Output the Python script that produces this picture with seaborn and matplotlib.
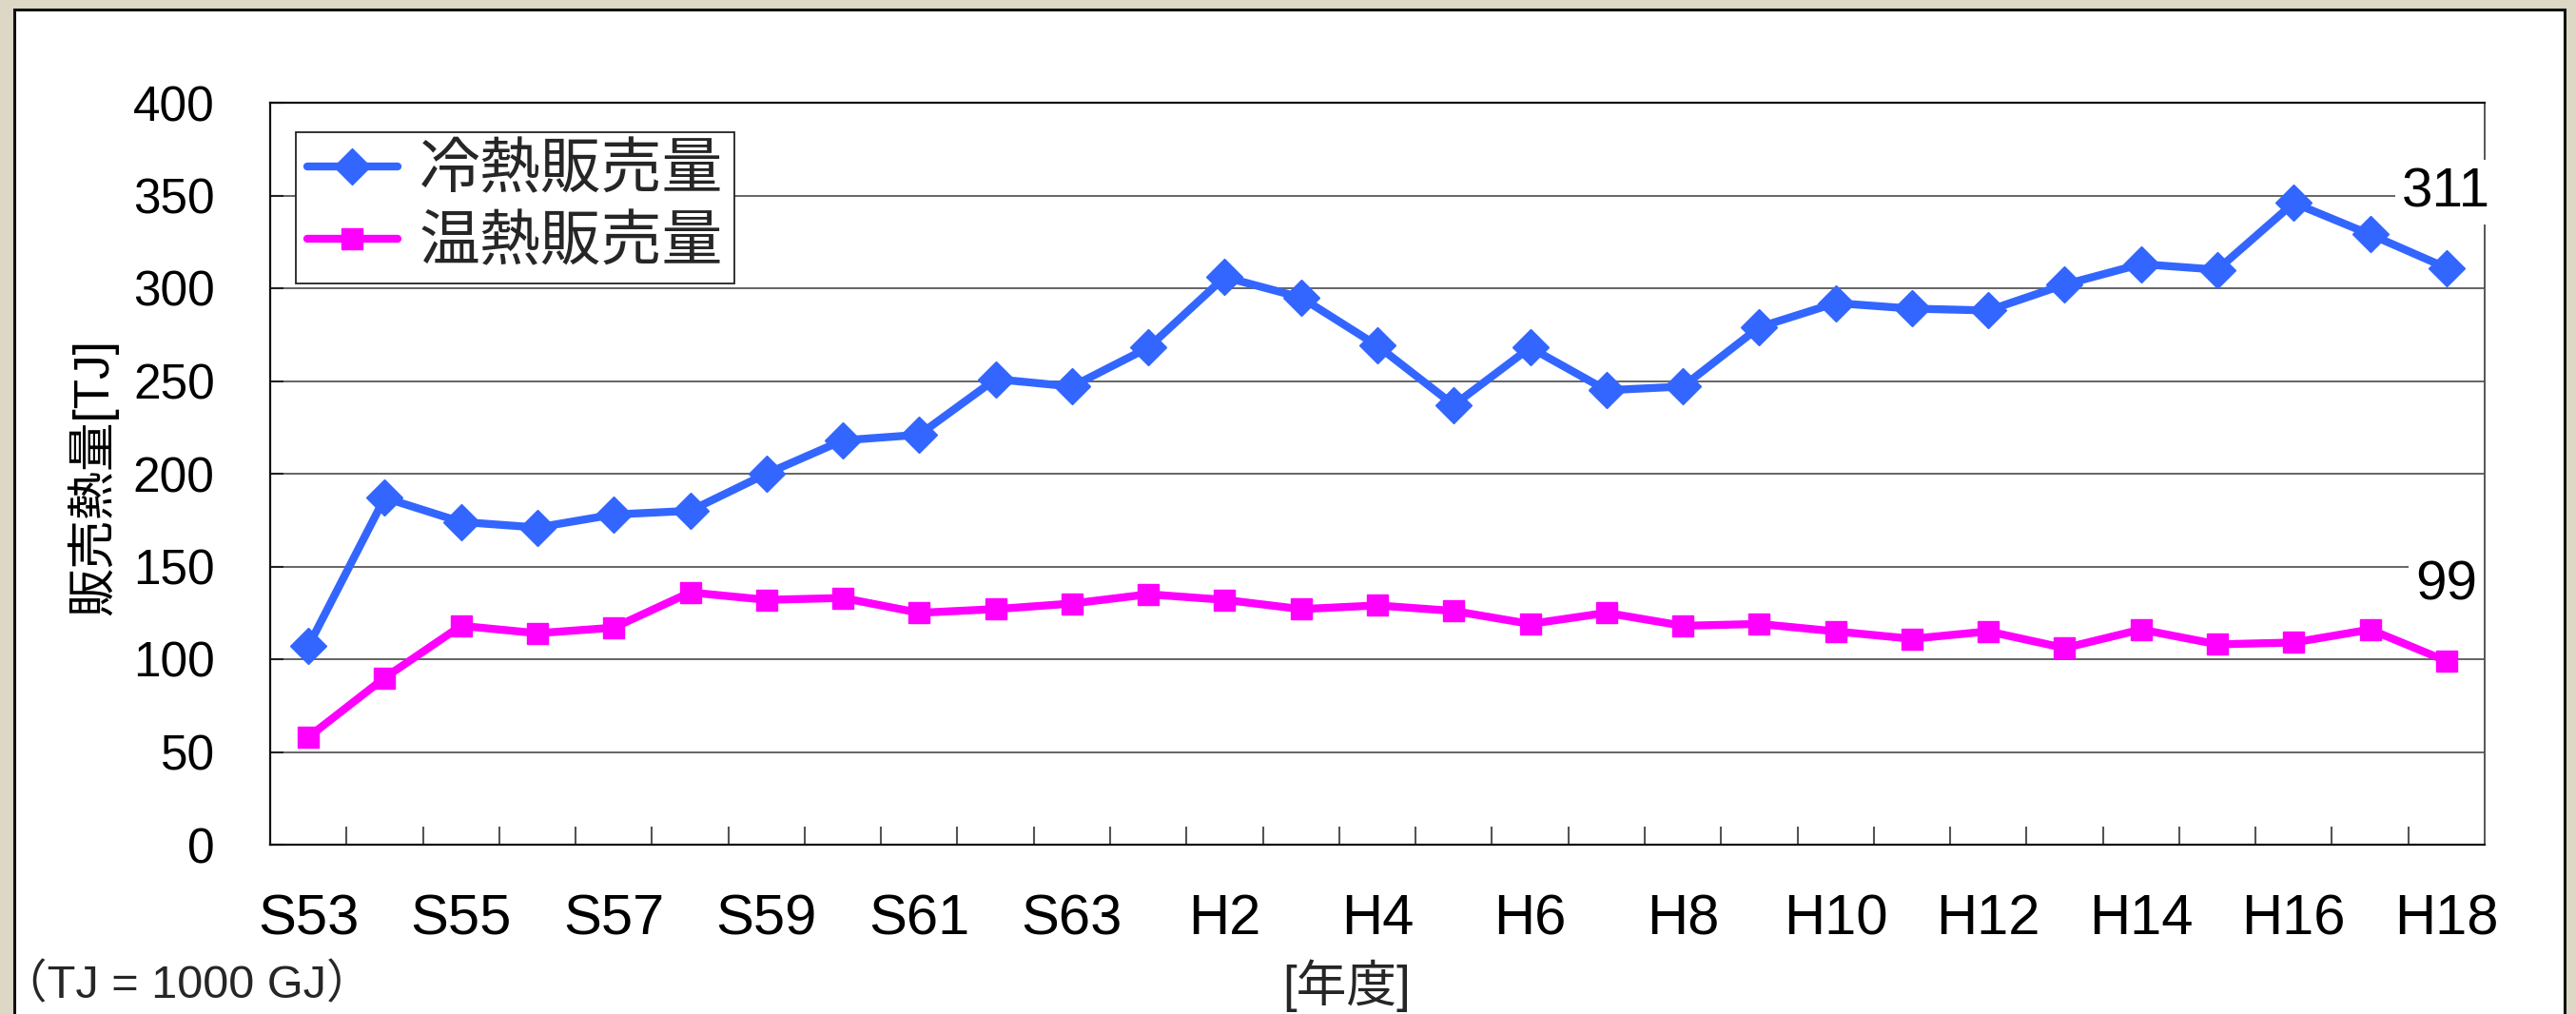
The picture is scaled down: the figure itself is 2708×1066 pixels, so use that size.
import numpy as np
import pandas as pd
import matplotlib
matplotlib.use("Agg")
import matplotlib.pyplot as plt
from matplotlib.patches import Rectangle
import seaborn as sns

# Fiscal years (Showa 53 .. Heisei 18)
years = ["S53", "S54", "S55", "S56", "S57", "S58", "S59", "S60", "S61", "S62", "S63",
         "H1", "H2", "H3", "H4", "H5", "H6", "H7", "H8", "H9", "H10",
         "H11", "H12", "H13", "H14", "H15", "H16", "H17", "H18"]

# Cold heat sold [TJ]
cold_sales = [107, 187, 174, 171, 178, 180, 200, 218, 221, 251, 247,
              268, 306, 295, 269, 237, 268, 245, 247, 279, 292,
              289, 288, 302, 313, 310, 346, 329, 311]

# Warm heat sold [TJ]
warm_sales = [58, 90, 118, 114, 117, 136, 132, 133, 125, 127, 130,
              135, 132, 127, 129, 126, 119, 125, 118, 119, 115,
              111, 115, 106, 116, 108, 109, 116, 99]

series_names = ["冷熱販売量", "温熱販売量"]
y_ticks = [0, 50, 100, 150, 200, 250, 300, 350, 400]

W, H = 2708, 1066
sns.set_theme(style="white")
plt.rcParams["font.family"] = ["Liberation Sans", "Noto Sans CJK JP", "DejaVu Sans"]

df = pd.DataFrame({
    "pos": np.arange(len(years)),
    "year": years,
    "cold": cold_sales,
    "warm": warm_sales,
})

fig = plt.figure(figsize=(W / 100, H / 100), dpi=100)
fig.patch.set_facecolor("#dcd8c5")

# white panel with dark frame, kept behind the axes
panel = Rectangle((15 / W, -0.2), (2696 - 15) / W, 1.2 - 10 / H,
                  transform=fig.transFigure, facecolor="white",
                  edgecolor="#111111", linewidth=2.2, zorder=-5)
fig.patches.append(panel)

ax = fig.add_axes([284 / W, 1 - 888 / H, (2612 - 284) / W, (888 - 108) / H])
ax.set_zorder(1)
ax.set_facecolor("white")

blue = "#3366ff"
magenta = "#ff00ff"

sns.lineplot(data=df, x="pos", y="cold", ax=ax, color=blue, linewidth=6,
             marker="D", markersize=19, markeredgecolor=blue, markeredgewidth=1,
             label=series_names[0], zorder=4)
sns.lineplot(data=df, x="pos", y="warm", ax=ax, color=magenta, linewidth=6,
             marker="s", markersize=16.5, markeredgecolor=magenta, markeredgewidth=1,
             label=series_names[1], zorder=4)

ax.set_xlim(-0.5, len(years) - 0.5)
ax.set_ylim(0, 400)
ax.set_yticks(y_ticks)
ax.set_yticklabels([str(v) for v in y_ticks])

# category boundaries carry the tick marks, labels sit on every other year
ax.set_xticks(np.arange(0.5, len(years) - 1, 1.0))
ax.set_xticklabels([])
label_pos = list(range(0, len(years), 2))
ax.set_xticks(label_pos, minor=True)
ax.set_xticklabels([years[i] for i in label_pos], minor=True)
ax.tick_params(axis="x", which="major", direction="in", length=13.5, width=1.5,
               color="#555555", bottom=True)
ax.tick_params(axis="x", which="minor", length=0, pad=37, labelsize=43,
               labelcolor="black", bottom=True)
ax.tick_params(axis="y", which="major", direction="in", length=10, width=1.5,
               color="#222222", pad=42, labelsize=37, labelcolor="black", left=True)

ax.yaxis.grid(True, color="#3a3a3a", linewidth=1.1)
ax.xaxis.grid(False)
ax.set_axisbelow(True)

for side in ["left", "bottom", "top"]:
    ax.spines[side].set_color("#111111")
    ax.spines[side].set_linewidth(1.6)
ax.spines["right"].set_color("#555555")
ax.spines["right"].set_linewidth(1.4)

ax.set_xlabel("")
ax.set_ylabel("販売熱量[TJ]", fontsize=37, color="black")
ax.yaxis.set_label_coords((124 - 284) / (2612 - 284), (888 - 502) / (888 - 108))

# end-of-series value labels
for vals in (cold_sales, warm_sales):
    ax.annotate(f"{vals[-1]}", xy=(len(years) - 1, vals[-1]), xytext=(0, 57),
                textcoords="offset points", ha="center", va="center",
                fontsize=42, color="black", annotation_clip=False, zorder=6,
                bbox=dict(boxstyle="square,pad=0.12", facecolor="white",
                          edgecolor="none"))

leg = ax.legend(loc="upper left",
                bbox_to_anchor=((311 - 284) / (2612 - 284), (888 - 139) / (888 - 108)),
                fontsize=46, frameon=True, fancybox=False, shadow=False,
                framealpha=1, edgecolor="#222222", borderpad=0.18,
                labelspacing=0.25, handlelength=1.5, handletextpad=0.35,
                borderaxespad=0)
leg.get_frame().set_linewidth(1.3)

fig.text(1416 / W, 1 - 1008 / H, "[年度]", ha="center", va="top", fontsize=38)
fig.text(1 / W, 1 - 1036 / H, "（TJ = 1000 GJ）", ha="left", va="center", fontsize=35)

fig.savefig("out.png", dpi=100, facecolor=fig.get_facecolor())
